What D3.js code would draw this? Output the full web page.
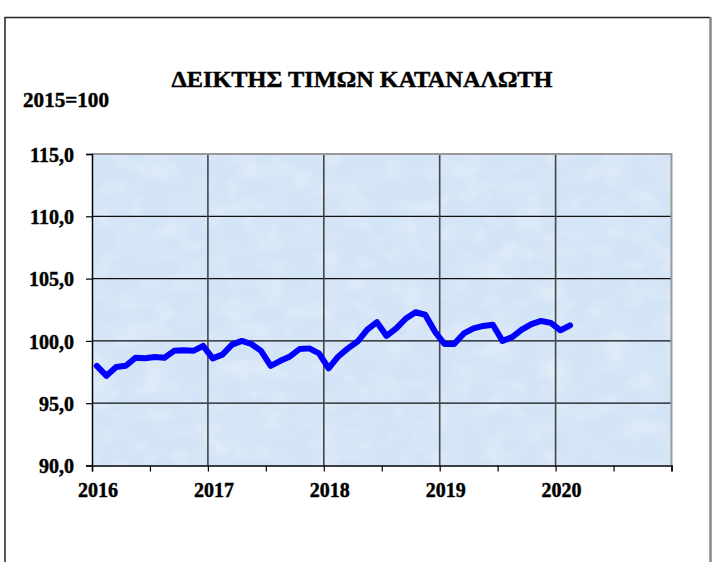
<!DOCTYPE html>
<html>
<head>
<meta charset="utf-8">
<script src="https://cdn.jsdelivr.net/npm/d3@7"></script>
<style>
  html, body { margin: 0; padding: 0; background: #ffffff; }
  svg { display: block; }
  svg text { font-family: "Liberation Serif", "Times New Roman", serif; font-weight: bold; stroke: #000; stroke-width: 0.45px; }
</style>
</head>
<body>
<svg id="chart" width="727" height="562"></svg>
<script>
// ---- data ----
const title = "ΔΕΙΚΤΗΣ ΤΙΜΩΝ ΚΑΤΑΝΑΛΩΤΗ";
const baseLabel = "2015=100";
const startYear = 2016;
const values2016 = [98.0, 97.2, 97.9, 98.0, 98.65, 98.6, 98.7, 98.65, 99.2, 99.25, 99.2, 99.6];
const values2017 = [98.6, 98.9, 99.7, 100.0, 99.75, 99.2, 98.0, 98.4, 98.75, 99.35, 99.4, 99.0];
const values2018 = [97.8, 98.75, 99.4, 99.95, 100.9, 101.5, 100.4, 101.0, 101.8, 102.3, 102.1, 100.75];
const values2019 = [99.75, 99.75, 100.6, 101.0, 101.2, 101.3, 100.0, 100.3, 100.9, 101.35, 101.6, 101.45];
const values2020 = [100.85, 101.25];
const yTicks = [90, 95, 100, 105, 110, 115];
const yearTicks = [2016, 2017, 2018, 2019, 2020];
const halfYearTicks = [2016, 2016.5, 2017, 2017.5, 2018, 2018.5, 2019, 2019.5, 2020, 2020.5, 2021];

(function () {
const values = [].concat(values2016, values2017, values2018, values2019, values2020);
const series = values.map((v, i) => ({ t: startYear + (i + 0.5) / 12, v: v }));

// ---- layout ----
const svg = d3.select("#chart");
const pL = 92, pR = 671.5, pT = 154, pB = 465.5;
const x = d3.scaleLinear().domain([2016, 2021]).range([pL, pR]);
const y = d3.scaleLinear().domain([90, 115]).range([pB, pT]);
const font = '"Liberation Serif", "Times New Roman", serif';

// outer frame
svg.append("path")
  .attr("d", "M5,600 L5,17.5 L710.5,17.5")
  .attr("fill", "none").attr("stroke", "#222").attr("stroke-width", 1.5);
svg.append("line")
  .attr("x1", 710.5).attr("x2", 710.5).attr("y1", 17).attr("y2", 600)
  .attr("stroke", "#888").attr("stroke-width", 2.5);

// plot background with soft texture
const defs = svg.append("defs");
const filt = defs.append("filter").attr("id", "tex").attr("x", 0).attr("y", 0).attr("width", 1).attr("height", 1);
filt.append("feTurbulence").attr("type", "fractalNoise").attr("baseFrequency", "0.035 0.05").attr("numOctaves", 3).attr("seed", 4).attr("result", "noise");
filt.append("feColorMatrix").attr("in", "noise").attr("type", "matrix")
  .attr("values", "0 0 0 0 1  0 0 0 0 1  0 0 0 0 1  0.55 0 0 0 -0.22")
  .attr("result", "wash");
filt.append("feComposite").attr("in", "wash").attr("in2", "SourceGraphic").attr("operator", "in").attr("result", "w2");
const merge = filt.append("feMerge");
merge.append("feMergeNode").attr("in", "SourceGraphic");
merge.append("feMergeNode").attr("in", "w2");

svg.append("rect")
  .attr("x", pL).attr("y", pT).attr("width", pR - pL).attr("height", pB - pT)
  .attr("fill", "#d3e4f6").attr("filter", "url(#tex)");

// gridlines
svg.append("g").selectAll("line").data(yTicks.filter(d => d > 90 && d < 115)).join("line")
  .attr("x1", pL).attr("x2", pR).attr("y1", d => y(d)).attr("y2", d => y(d))
  .attr("stroke", "#111").attr("stroke-width", 1.2);
svg.append("g").selectAll("line").data(yearTicks.filter(d => d > 2016)).join("line")
  .attr("x1", d => x(d)).attr("x2", d => x(d)).attr("y1", pT).attr("y2", pB)
  .attr("stroke", "#444").attr("stroke-width", 1.6);

// plot frame top/right (grey)
svg.append("path")
  .attr("d", `M${pL},${pT} L${pR},${pT} L${pR},${pB}`)
  .attr("fill", "none").attr("stroke", "#999").attr("stroke-width", 2);

// axes
const yAxis = svg.append("g").attr("transform", `translate(${pL},0)`)
  .call(d3.axisLeft(y).tickValues(yTicks).tickSize(6).tickPadding(12)
    .tickFormat(d => d3.format(".1f")(d).replace(".", ",")));
const xAxis = svg.append("g").attr("transform", `translate(0,${pB})`)
  .call(d3.axisBottom(x).tickValues(halfYearTicks).tickSize(6).tickPadding(10)
    .tickFormat(d => (Number.isInteger(d) && d <= 2020) ? String(d) : ""));

[yAxis, xAxis].forEach(g => {
  g.attr("font-family", null).attr("font-size", null);
  g.select(".domain").attr("stroke", "#000").attr("stroke-width", 1.5);
  g.selectAll(".tick line").attr("stroke", "#000").attr("stroke-width", 1.2);
  g.selectAll("text").attr("fill", "#000").style("font-family", font)
    .style("font-weight", "bold").style("font-size", "20px");
});
yAxis.selectAll("text").attr("dy", "0.36em");
xAxis.selectAll("text").attr("dx", "5.5").attr("dy", "0.75em");

// line
svg.append("path")
  .datum(series)
  .attr("d", d3.line().x(d => x(d.t)).y(d => y(d.v)))
  .attr("fill", "none").attr("stroke", "#0000ff").attr("stroke-width", 6)
  .attr("stroke-linejoin", "round").attr("stroke-linecap", "round");

// titles
svg.append("text")
  .attr("x", 362).attr("y", 87)
  .attr("text-anchor", "middle")
  .style("font-family", font).style("font-weight", "bold").style("font-size", "23px")
  .attr("textLength", 381).attr("lengthAdjust", "spacingAndGlyphs")
  .text(title);

svg.append("text")
  .attr("x", 23).attr("y", 107)
  .style("font-family", font).style("font-weight", "bold").style("font-size", "21px")
  .attr("textLength", 86).attr("lengthAdjust", "spacingAndGlyphs")
  .text(baseLabel);
})();
</script>
</body>
</html>
